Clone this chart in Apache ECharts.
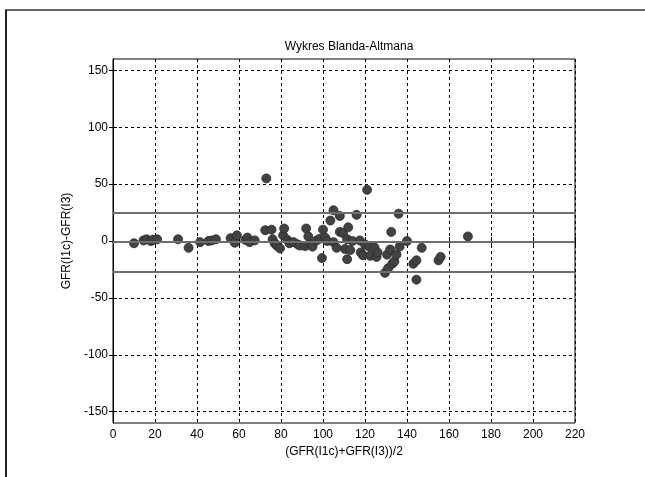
<!DOCTYPE html>
<html>
<head>
<meta charset="utf-8">
<script src="https://cdn.jsdelivr.net/npm/echarts@6/dist/echarts.min.js"></script>
<style>
  html, body { margin: 0; padding: 0; background: #fff; }
  #chart { width: 645px; height: 477px; }
</style>
</head>
<body>
<div id="chart"></div>
<script>
// Bland-Altman plot: mean of the two GFR estimates vs their difference
const meanGFR = [
  10, 14.5, 16, 18, 19, 21, 31, 36, 41.5, 45.5, 47, 49, 56, 58, 59, 63, 64, 65, 67.5,
  72.5, 73, 75.5, 76, 77, 78, 79.5, 81, 81.5, 83, 84, 86, 88, 89, 91.5, 92, 93, 94, 95,
  97, 98.5, 99.5, 100, 101, 102, 103.5, 105, 105, 106.5, 108, 108, 109.5, 110.5, 111.5,
  111.5, 112, 113, 114, 116, 117.5, 118, 119, 120, 121, 122, 122.5, 124.5, 125.5, 126,
  129.5, 130.5, 131, 132, 132.5, 133, 134, 135, 136, 136.5, 140, 143, 144.5, 144.5, 147,
  155, 156, 169
];
const diffGFR = [
  -2, 0.5, 1.5, 0, 1, 1.5, 1.5, -6, -1, 0, 0.5, 1.5, 2.5, -1.5, 5, 1, 3, -1, 0.5,
  9.5, 55, 10, 1.5, -2, -4, -6.5, 5, 11, 1, -2, -1, -3, -4, -4.5, 11, 4, -3, -5,
  0.5, 2, -15, 10, 3, 0, 18, 27, -1, -6, 8, 22, 7, -7, 1.5,
  -16, 12, -8, 0, 23, 0.5, -10, -12.5, -3, 45, -5, -13, -5.5, -14, -10,
  -28, -12, -24, -7.5, 8, -20, -18, -12, 24, -5, 0, -20, -17, -34, -6,
  -17, -14, 4
];
// mean difference and limits of agreement
const biasLine = -1;
const upperLimit = 25;
const lowerLimit = -27;

const xTicks = [0, 20, 40, 60, 80, 100, 120, 140, 160, 180, 200, 220];
const yTicks = [-150, -100, -50, 0, 50, 100, 150];

const FONT = 'Liberation Sans, Arial, Helvetica, sans-serif';
const points = meanGFR.map((m, i) => [m, diffGFR[i]]);

const chart = echarts.init(document.getElementById('chart'), null, { renderer: 'canvas' });

const dashed = { show: true, lineStyle: { color: '#000', type: [3, 3], width: 1 } };
const txt = { color: '#000', fontFamily: FONT, fontSize: 12 };

chart.setOption({
  animation: false,
  backgroundColor: '#fff',
  title: {
    text: 'Wykres Blanda-Altmana',
    left: 344, top: 36, textAlign: 'center',
    textStyle: { color: '#000', fontFamily: FONT, fontSize: 12, fontWeight: 'normal' }
  },
  graphic: [
    { type: 'line', shape: { x1: 5, y1: 10, x2: 645, y2: 10 }, style: { stroke: '#666', lineWidth: 2 } },
    { type: 'line', shape: { x1: 6, y1: 10, x2: 6, y2: 477 }, style: { stroke: '#222', lineWidth: 2 } }
  ],
  grid: { left: 113, top: 59, width: 462, height: 364, show: true, borderColor: '#000', borderWidth: 1, backgroundColor: '#fff' },
  xAxis: [{
    type: 'value', min: 0, max: 220, interval: 20,
    name: '(GFR(I1c)+GFR(I3))/2', nameLocation: 'middle', nameGap: 23,
    nameTextStyle: txt,
    axisLine: { show: true, lineStyle: { color: '#000' } },
    axisTick: { show: true, inside: true, length: 4, lineStyle: { color: '#000' } },
    axisLabel: Object.assign({ margin: 6, customValues: xTicks }, txt),
    splitLine: dashed
  }, {
    type: 'value', min: 0, max: 220, interval: 20, position: 'top',
    axisLine: { show: true, lineStyle: { color: '#000' } },
    axisTick: { show: true, inside: true, length: 4, lineStyle: { color: '#000' } },
    axisLabel: { show: false }, splitLine: { show: false }
  }],
  yAxis: [{
    type: 'value', min: -160, max: 160,
    name: 'GFR(I1c)-GFR(I3)', nameLocation: 'middle', nameGap: 30,
    nameTextStyle: txt,
    axisLine: { show: true, lineStyle: { color: '#000' } },
    axisTick: { show: true, inside: true, length: 4, customValues: yTicks, lineStyle: { color: '#000' } },
    axisLabel: Object.assign({ margin: 5, customValues: yTicks }, txt),
    splitLine: { show: false }
  }, {
    type: 'value', min: -160, max: 160, position: 'right',
    axisLine: { show: true, lineStyle: { color: '#000' } },
    axisTick: { show: true, inside: true, length: 4, customValues: yTicks, lineStyle: { color: '#000' } },
    axisLabel: { show: false }, splitLine: { show: false }
  }],
  series: [{
    type: 'scatter',
    data: points,
    symbol: 'circle',
    symbolSize: 9,
    itemStyle: { color: '#424242', borderColor: '#2a2a2a', borderWidth: 0.8, opacity: 1 },
    z: 3,
    markLine: {
      silent: true, symbol: 'none', animation: false,
      label: { show: false },
      data: yTicks.map(v => ({ yAxis: v, lineStyle: { color: '#000', type: [3, 3], width: 1 } }))
        .concat([biasLine, upperLimit, lowerLimit].map(v => ({ yAxis: v, lineStyle: { color: '#6e6e6e', type: 'solid', width: 2 } })))
    }
  }]
});
</script>
</body>
</html>
